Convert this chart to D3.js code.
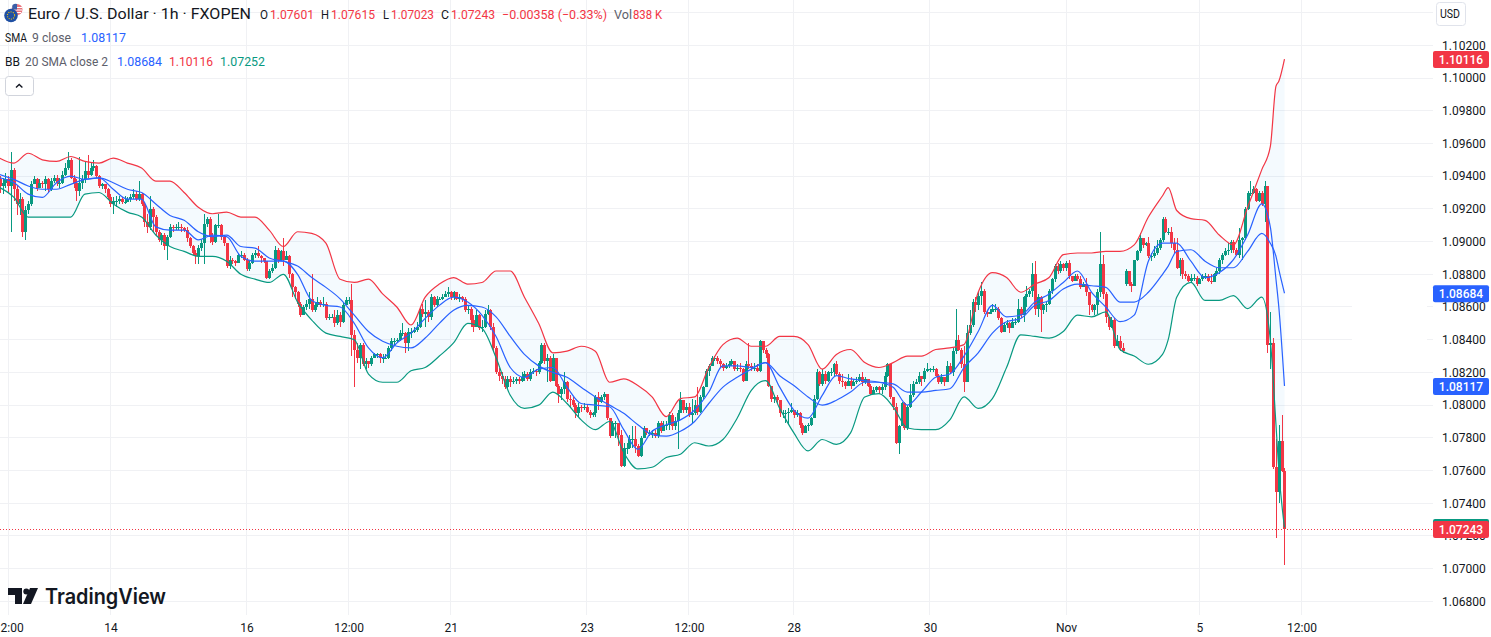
<!DOCTYPE html>
<html>
<head>
<meta charset="utf-8">
<script src="https://cdn.jsdelivr.net/npm/d3@7"></script>
<style>
  html, body { margin: 0; padding: 0; background: #fff; overflow: hidden; }
  text { font-family: Roboto, sans-serif; }
</style>
</head>
<body>
<div id="chart"></div>
<script>
// hourly closes, first bar is index -3
var firstBar = -3;
var firstOpen = 1.0938;
var gapOpens = { 394: 1.0874 };   // weekend gap, the rest open on the previous close

var closes = [
  1.0934,1.0936,1.0938,1.0934,1.0944,1.0932,1.0923,1.0926,1.0906,1.0919,
  1.0923,1.0935,1.0938,1.0933,1.0936,1.0935,1.0938,1.0932,1.0937,1.0939,
  1.0936,1.0936,1.0941,1.0945,1.0950,1.0939,1.0936,1.0931,1.0936,1.0938,
  1.0943,1.0941,1.0945,1.0946,1.0940,1.0934,1.0935,1.0932,1.0927,1.0923,
  1.0925,1.0925,1.0926,1.0924,1.0924,1.0926,1.0927,1.0929,1.0926,1.0929,
  1.0923,1.0912,1.0909,1.0920,1.0915,1.0906,1.0901,1.0904,1.0897,1.0903,
  1.0909,1.0908,1.0909,1.0909,1.0908,1.0907,1.0902,1.0897,1.0893,1.0891,
  1.0896,1.0899,1.0911,1.0914,1.0903,1.0900,1.0910,1.0910,1.0903,1.0899,
  1.0885,1.0889,1.0888,1.0887,1.0892,1.0892,1.0889,1.0883,1.0887,1.0892,
  1.0893,1.0891,1.0890,1.0888,1.0878,1.0882,1.0884,1.0895,1.0889,1.0894,
  1.0889,1.0891,1.0880,1.0872,1.0869,1.0862,1.0855,1.0860,1.0862,1.0865,
  1.0858,1.0861,1.0863,1.0861,1.0862,1.0853,1.0854,1.0854,1.0850,1.0855,
  1.0851,1.0861,1.0864,1.0864,1.0843,1.0834,1.0829,1.0837,1.0825,1.0827,
  1.0825,1.0829,1.0831,1.0831,1.0829,1.0829,1.0829,1.0835,1.0839,1.0839,
  1.0840,1.0844,1.0844,1.0838,1.0845,1.0845,1.0846,1.0848,1.0859,1.0856,
  1.0857,1.0854,1.0866,1.0861,1.0865,1.0865,1.0866,1.0868,1.0869,1.0866,
  1.0869,1.0865,1.0866,1.0865,1.0858,1.0859,1.0852,1.0848,1.0855,1.0847,
  1.0848,1.0856,1.0858,1.0848,1.0835,1.0820,1.0818,1.0816,1.0811,1.0816,
  1.0814,1.0815,1.0816,1.0815,1.0817,1.0819,1.0816,1.0820,1.0821,1.0820,
  1.0826,1.0837,1.0827,1.0829,1.0815,1.0829,1.0812,1.0807,1.0810,1.0814,
  1.0804,1.0803,1.0800,1.0795,1.0799,1.0798,1.0799,1.0796,1.0794,1.0795,
  1.0805,1.0802,1.0805,1.0807,1.0792,1.0781,1.0789,1.0789,1.0782,1.0763,
  1.0774,1.0774,1.0779,1.0779,1.0775,1.0769,1.0780,1.0786,1.0783,1.0783,
  1.0783,1.0781,1.0789,1.0784,1.0788,1.0788,1.0794,1.0787,1.0790,1.0795,
  1.0803,1.0797,1.0799,1.0794,1.0795,1.0800,1.0796,1.0805,1.0811,1.0821,
  1.0824,1.0829,1.0829,1.0827,1.0825,1.0823,1.0824,1.0825,1.0827,1.0822,
  1.0823,1.0822,1.0815,1.0825,1.0824,1.0823,1.0823,1.0821,1.0839,1.0834,
  1.0831,1.0812,1.0804,1.0805,1.0803,1.0795,1.0795,1.0795,1.0796,1.0797,
  1.0794,1.0795,1.0788,1.0783,1.0787,1.0788,1.0792,1.0804,1.0820,1.0813,
  1.0819,1.0815,1.0820,1.0820,1.0825,1.0819,1.0815,1.0814,1.0812,1.0815,
  1.0812,1.0814,1.0815,1.0817,1.0814,1.0816,1.0812,1.0807,1.0809,1.0811,
  1.0809,1.0811,1.0818,1.0825,1.0805,1.0799,1.0777,1.0787,1.0801,1.0786,
  1.0799,1.0806,1.0813,1.0814,1.0818,1.0816,1.0821,1.0822,1.0822,1.0822,
  1.0818,1.0814,1.0817,1.0814,1.0824,1.0820,1.0833,1.0840,1.0834,1.0825,
  1.0814,1.0844,1.0849,1.0863,1.0861,1.0867,
  1.0870,1.0857,1.0856,1.0857,1.0859,1.0859,1.0853,1.0845,1.0849,1.0850,
  1.0847,1.0851,1.0851,1.0859,1.0855,1.0866,1.0868,1.0870,1.0880,1.0859,
  1.0866,1.0858,1.0861,1.0862,1.0870,1.0877,1.0885,1.0882,1.0886,1.0884,
  1.0887,1.0879,1.0876,1.0879,1.0877,1.0872,1.0874,1.0869,1.0861,1.0858,
  1.0861,1.0869,1.0886,1.0868,1.0854,1.0848,1.0852,1.0836,1.0839,1.0835,
  1.0833,1.0882,1.0874,1.0873,1.0889,1.0894,1.0902,1.0898,1.0899,1.0891,
  1.0891,1.0893,1.0896,1.0901,1.0914,1.0906,1.0906,1.0899,1.0895,1.0884,
  1.0889,1.0880,1.0879,1.0876,1.0878,1.0878,1.0874,1.0877,1.0879,1.0879,
  1.0876,1.0875,1.0880,1.0882,1.0889,1.0892,1.0894,1.0895,1.0900,1.0895,
  1.0892,1.0901,1.0902,1.0920,1.0930,1.0930,1.0932,1.0925,1.0930,1.0923,1.0934,
  1.0837,1.0838,1.0762,1.0747,1.0778,1.0760,1.07243
];

var highs = [
  1.0940,1.0939,1.0942,1.0940,1.0955,1.0945,1.0934,1.0930,1.0927,1.0922,
  1.0925,1.0937,1.0940,1.0939,1.0938,1.0937,1.0940,1.0939,1.0939,1.0941,
  1.0941,1.0939,1.0943,1.0948,1.0955,1.0951,1.0941,1.0938,1.0952,1.0941,
  1.0949,1.0953,1.0948,1.0950,1.0947,1.0941,1.0936,1.0935,1.0933,1.0929,
  1.0927,1.0928,1.0928,1.0927,1.0928,1.0927,1.0929,1.0932,1.0931,1.0937,
  1.0930,1.0924,1.0917,1.0928,1.0921,1.0916,1.0907,1.0905,1.0905,1.0904,
  1.0911,1.0910,1.0911,1.0912,1.0911,1.0909,1.0909,1.0903,1.0898,1.0895,
  1.0898,1.0901,1.0917,1.0915,1.0915,1.0905,1.0911,1.0917,1.0911,1.0904,
  1.0899,1.0891,1.0890,1.0889,1.0893,1.0894,1.0893,1.0890,1.0888,1.0893,
  1.0895,1.0897,1.0892,1.0890,1.0888,1.0883,1.0886,1.0897,1.0896,1.0895,
  1.0902,1.0894,1.0892,1.0881,1.0873,1.0870,1.0863,1.0861,1.0864,1.0869,
  1.0880,1.0863,1.0866,1.0864,1.0866,1.0863,1.0856,1.0856,1.0858,1.0858,
  1.0857,1.0863,1.0866,1.0866,1.0874,1.0846,1.0838,1.0838,1.0838,1.0829,
  1.0827,1.0830,1.0832,1.0832,1.0832,1.0831,1.0831,1.0836,1.0841,1.0841,
  1.0841,1.0846,1.0850,1.0845,1.0847,1.0847,1.0848,1.0851,1.0860,1.0862,
  1.0864,1.0858,1.0868,1.0867,1.0867,1.0866,1.0868,1.0870,1.0872,1.0870,
  1.0870,1.0869,1.0868,1.0867,1.0866,1.0861,1.0860,1.0855,1.0858,1.0856,
  1.0852,1.0858,1.0861,1.0859,1.0850,1.0836,1.0823,1.0820,1.0818,1.0818,
  1.0818,1.0817,1.0817,1.0817,1.0820,1.0821,1.0820,1.0822,1.0823,1.0822,
  1.0827,1.0838,1.0838,1.0831,1.0830,1.0831,1.0821,1.0813,1.0811,1.0820,
  1.0815,1.0806,1.0805,1.0801,1.0801,1.0800,1.0801,1.0800,1.0797,1.0796,
  1.0806,1.0808,1.0806,1.0808,1.0807,1.0791,1.0790,1.0790,1.0789,1.0785,
  1.0777,1.0777,1.0782,1.0787,1.0787,1.0776,1.0781,1.0787,1.0786,1.0785,
  1.0785,1.0785,1.0790,1.0790,1.0790,1.0790,1.0796,1.0795,1.0793,1.0797,
  1.0808,1.0803,1.0801,1.0801,1.0804,1.0803,1.0811,1.0806,1.0812,1.0822,
  1.0825,1.0830,1.0830,1.0830,1.0828,1.0826,1.0826,1.0827,1.0828,1.0827,
  1.0825,1.0826,1.0823,1.0827,1.0838,1.0826,1.0826,1.0825,1.0840,1.0839,
  1.0835,1.0832,1.0812,1.0806,1.0806,1.0803,1.0797,1.0797,1.0798,1.0801,
  1.0796,1.0797,1.0796,1.0789,1.0788,1.0789,1.0793,1.0806,1.0822,1.0821,
  1.0822,1.0821,1.0821,1.0823,1.0826,1.0827,1.0820,1.0819,1.0815,1.0819,
  1.0817,1.0816,1.0817,1.0819,1.0820,1.0817,1.0816,1.0813,1.0811,1.0812,
  1.0812,1.0813,1.0820,1.0826,1.0822,1.0805,1.0801,1.0788,1.0802,1.0802,
  1.0800,1.0813,1.0815,1.0816,1.0820,1.0818,1.0823,1.0826,1.0823,1.0824,
  1.0823,1.0819,1.0819,1.0816,1.0827,1.0826,1.0835,1.0859,1.0843,1.0835,
  1.0836,1.0849,1.0858,1.0865,1.0866,1.0869,
  1.0875,1.0871,1.0858,1.0859,1.0862,1.0862,1.0860,1.0854,1.0851,1.0852,
  1.0851,1.0853,1.0853,1.0865,1.0860,1.0867,1.0873,1.0871,1.0887,1.0888,
  1.0868,1.0867,1.0862,1.0863,1.0871,1.0878,1.0886,1.0887,1.0888,1.0887,
  1.0888,1.0889,1.0879,1.0880,1.0880,1.0879,1.0875,1.0878,1.0869,1.0862,
  1.0862,1.0871,1.0906,1.0892,1.0869,1.0854,1.0854,1.0853,1.0843,1.0842,
  1.0838,1.0883,1.0880,1.0875,1.0889,1.0895,1.0905,1.0902,1.0900,1.0903,
  1.0893,1.0897,1.0901,1.0902,1.0915,1.0915,1.0908,1.0909,1.0902,1.0902,
  1.0890,1.0890,1.0882,1.0880,1.0880,1.0880,1.0879,1.0878,1.0880,1.0881,
  1.0880,1.0880,1.0881,1.0884,1.0890,1.0893,1.0896,1.0899,1.0901,1.0901,
  1.0896,1.0908,1.0903,1.0921,1.0931,1.0937,1.0934,1.0933,1.0931,1.0931,1.0937,
  1.0934,1.0857,1.0841,1.0779,1.0788,1.0794,1.07615
];

var lows = [
  1.0930,1.0929,1.0933,1.0930,1.0906,1.0925,1.0916,1.0916,1.0903,1.0901,
  1.0917,1.0922,1.0935,1.0931,1.0933,1.0933,1.0931,1.0930,1.0931,1.0936,
  1.0934,1.0933,1.0935,1.0940,1.0944,1.0938,1.0933,1.0925,1.0928,1.0932,
  1.0936,1.0939,1.0940,1.0943,1.0939,1.0933,1.0932,1.0930,1.0926,1.0921,
  1.0917,1.0921,1.0923,1.0923,1.0923,1.0924,1.0924,1.0926,1.0925,1.0925,
  1.0922,1.0909,1.0905,1.0907,1.0906,1.0904,1.0900,1.0898,1.0895,1.0889,
  1.0902,1.0906,1.0907,1.0907,1.0906,1.0906,1.0900,1.0896,1.0892,1.0886,
  1.0886,1.0894,1.0886,1.0909,1.0899,1.0898,1.0899,1.0908,1.0901,1.0897,
  1.0884,1.0883,1.0886,1.0885,1.0887,1.0890,1.0888,1.0882,1.0882,1.0886,
  1.0890,1.0890,1.0887,1.0887,1.0877,1.0877,1.0881,1.0883,1.0887,1.0888,
  1.0885,1.0889,1.0878,1.0866,1.0865,1.0860,1.0854,1.0855,1.0858,1.0859,
  1.0857,1.0857,1.0860,1.0860,1.0860,1.0852,1.0852,1.0853,1.0848,1.0849,
  1.0848,1.0850,1.0862,1.0862,1.0830,1.0811,1.0826,1.0822,1.0824,1.0822,
  1.0823,1.0824,1.0829,1.0829,1.0826,1.0826,1.0828,1.0828,1.0833,1.0837,
  1.0838,1.0839,1.0842,1.0832,1.0833,1.0841,1.0844,1.0845,1.0847,1.0854,
  1.0848,1.0851,1.0852,1.0860,1.0860,1.0864,1.0864,1.0866,1.0866,1.0864,
  1.0864,1.0864,1.0863,1.0863,1.0857,1.0856,1.0848,1.0845,1.0848,1.0846,
  1.0845,1.0847,1.0855,1.0846,1.0833,1.0819,1.0815,1.0813,1.0810,1.0810,
  1.0811,1.0813,1.0813,1.0813,1.0814,1.0815,1.0815,1.0815,1.0819,1.0818,
  1.0819,1.0825,1.0825,1.0814,1.0814,1.0815,1.0811,1.0801,1.0803,1.0807,
  1.0802,1.0798,1.0799,1.0792,1.0793,1.0796,1.0797,1.0795,1.0792,1.0793,
  1.0793,1.0797,1.0801,1.0803,1.0791,1.0780,1.0781,1.0780,1.0775,1.0762,
  1.0762,1.0770,1.0773,1.0774,1.0771,1.0768,1.0768,1.0780,1.0782,1.0781,
  1.0780,1.0780,1.0780,1.0783,1.0784,1.0785,1.0785,1.0785,1.0785,1.0773,
  1.0796,1.0795,1.0795,1.0793,1.0789,1.0794,1.0794,1.0795,1.0804,1.0811,
  1.0818,1.0824,1.0827,1.0825,1.0823,1.0821,1.0822,1.0823,1.0824,1.0821,
  1.0821,1.0820,1.0814,1.0815,1.0822,1.0821,1.0821,1.0820,1.0820,1.0832,
  1.0829,1.0811,1.0802,1.0801,1.0801,1.0793,1.0792,1.0789,1.0788,1.0795,
  1.0792,1.0793,1.0786,1.0782,1.0783,1.0784,1.0787,1.0792,1.0803,1.0812,
  1.0812,1.0813,1.0814,1.0818,1.0817,1.0818,1.0813,1.0811,1.0810,1.0813,
  1.0810,1.0812,1.0813,1.0814,1.0812,1.0813,1.0811,1.0806,1.0807,1.0808,
  1.0807,1.0807,1.0809,1.0817,1.0804,1.0797,1.0776,1.0770,1.0787,1.0785,
  1.0785,1.0798,1.0805,1.0813,1.0813,1.0812,1.0814,1.0820,1.0820,1.0820,
  1.0817,1.0813,1.0813,1.0812,1.0814,1.0819,1.0818,1.0831,1.0833,1.0823,
  1.0808,1.0814,1.0843,1.0848,1.0857,1.0858,
  1.0861,1.0856,1.0854,1.0856,1.0857,1.0857,1.0852,1.0844,1.0845,1.0847,
  1.0844,1.0847,1.0849,1.0850,1.0853,1.0851,1.0860,1.0866,1.0866,1.0855,
  1.0854,1.0845,1.0856,1.0857,1.0861,1.0868,1.0875,1.0880,1.0881,1.0882,
  1.0882,1.0877,1.0875,1.0876,1.0876,1.0871,1.0872,1.0867,1.0855,1.0857,
  1.0855,1.0856,1.0866,1.0865,1.0850,1.0846,1.0847,1.0835,1.0836,1.0833,
  1.0832,1.0873,1.0873,1.0869,1.0873,1.0888,1.0893,1.0896,1.0897,1.0890,
  1.0888,1.0890,1.0892,1.0895,1.0900,1.0905,1.0904,1.0896,1.0893,1.0883,
  1.0879,1.0877,1.0877,1.0875,1.0875,1.0876,1.0873,1.0874,1.0876,1.0877,
  1.0875,1.0874,1.0875,1.0879,1.0880,1.0886,1.0891,1.0892,1.0893,1.0893,
  1.0891,1.0890,1.0889,1.0901,1.0919,1.0928,1.0929,1.0924,1.0924,1.0922,1.0912,
  1.0832,1.0822,1.0761,1.0719,1.0740,1.0759,1.07023
];

// line series are sampled every 5 bars, with the peak at 409 and the last steep bars
var lineBars = d3.range(-3, 408, 5).concat([409], d3.range(412, 443, 5), [445, 447, 448, 450]);

var bbUpper = [
  1.0951,1.0948,1.0954,1.0950,1.0949,1.0952,1.0949,1.0948,1.0951,1.0948,1.0945,1.0937,1.0937,1.0930,1.0921,
  1.0917,1.0918,1.0915,1.0915,1.0907,1.0897,1.0906,1.0905,1.0899,1.0877,1.0875,1.0877,1.0868,1.0860,1.0849,
  1.0866,1.0874,1.0878,1.0874,1.0875,1.0882,1.0882,1.0866,1.0850,1.0832,1.0833,1.0836,1.0833,1.0814,1.0816,
  1.0812,1.0805,1.0793,1.0804,1.0805,1.0823,1.0837,1.0841,1.0836,1.0836,1.0842,1.0842,1.0837,1.0822,1.0831,
  1.0834,1.0826,1.0823,1.0826,1.0830,1.0830,1.0834,1.0835,1.0837,1.0869,1.0881,1.0878,1.0869,1.0874,1.0878,
  1.0892,1.0893,1.0893,1.0894,1.0894,1.0898,1.0915,1.0928,1.0933,1.0919,1.0914,1.0913,1.0904,1.0898,1.0921,1.0944,
  1.0958,1.0995,1.0998,1.10116
];

var bbBasis = [
  1.0941,1.0938,1.0934,1.0932,1.0932,1.0935,1.0938,1.0939,1.0936,1.0932,1.0930,1.0923,1.0916,1.0913,1.0906,
  1.0903,1.0904,1.0897,1.0896,1.0890,1.0888,1.0885,1.0878,1.0872,1.0865,1.0855,1.0845,1.0839,1.0836,1.0835,
  1.0841,1.0850,1.0858,1.0861,1.0860,1.0854,1.0842,1.0831,1.0824,1.0820,1.0817,1.0811,1.0805,1.0800,1.0795,
  1.0788,1.0782,1.0781,1.0784,1.0790,1.0801,1.0811,1.0817,1.0822,1.0826,1.0818,1.0812,1.0805,1.0800,1.0803,
  1.0808,1.0814,1.0814,1.0813,1.0808,1.0808,1.0809,1.0810,1.0823,1.0832,1.0844,1.0851,1.0853,1.0861,1.0864,
  1.0871,1.0874,1.0873,1.0872,1.0863,1.0863,1.0869,1.0880,1.0885,1.0894,1.0895,1.0888,1.0884,1.0884,1.0894,1.0905,
  1.0899,1.0891,1.0883,1.08684
];

var bbLower = [
  1.0933,1.0927,1.0915,1.0915,1.0915,1.0915,1.0929,1.0930,1.0923,1.0918,1.0915,1.0904,1.0897,1.0894,1.0891,
  1.0891,1.0888,1.0880,1.0877,1.0875,1.0880,1.0863,1.0852,1.0844,1.0842,1.0840,1.0819,1.0814,1.0814,1.0821,
  1.0823,1.0830,1.0838,1.0850,1.0847,1.0829,1.0806,1.0798,1.0800,1.0808,1.0801,1.0791,1.0785,1.0790,1.0771,
  1.0761,1.0762,1.0768,1.0770,1.0777,1.0775,1.0779,1.0792,1.0809,1.0815,1.0798,1.0783,1.0772,1.0779,1.0776,
  1.0783,1.0805,1.0807,1.0799,1.0786,1.0785,1.0785,1.0791,1.0805,1.0798,1.0804,1.0823,1.0843,1.0842,1.0841,
  1.0845,1.0855,1.0854,1.0857,1.0834,1.0830,1.0825,1.0831,1.0840,1.0866,1.0875,1.0864,1.0864,1.0867,1.0859,1.0866,
  1.0840,1.0788,1.0760,1.07252
];

var sma9 = [
  1.0939,1.0936,1.0929,1.0927,1.0936,1.0940,1.0938,1.0939,1.0932,1.0926,1.0926,1.0909,1.0907,1.0907,1.0901,
  1.0904,1.0903,1.0891,1.0888,1.0888,1.0888,1.0880,1.0864,1.0861,1.0860,1.0850,1.0835,1.0829,1.0838,1.0844,
  1.0853,1.0861,1.0866,1.0863,1.0855,1.0842,1.0823,1.0817,1.0822,1.0823,1.0811,1.0801,1.0800,1.0799,1.0785,
  1.0773,1.0784,1.0788,1.0791,1.0797,1.0808,1.0824,1.0824,1.0823,1.0826,1.0811,1.0797,1.0792,1.0806,1.0818,
  1.0816,1.0815,1.0814,1.0811,1.0800,1.0808,1.0817,1.0819,1.0830,1.0845,1.0861,1.0854,1.0855,1.0863,1.0868,
  1.0875,1.0882,1.0869,1.0860,1.0851,1.0855,1.0888,1.0899,1.0899,1.0899,1.0888,1.0878,1.0881,1.0889,1.0904,1.0923,
  1.0909,1.0877,1.0860,1.08117
];

var priceTicks = d3.range(17, -1, -1).map(function(k) { return 1.068 + k * 0.002; });
var gridPrices = [1.104].concat(priceTicks);
var timeBars = [0, 36, 84, 120, 156, 204, 240, 277, 325, 373, 420, 456];
var timeLabels = ["12:00", "14", "16", "12:00", "21", "23", "12:00", "28", "30", "Nov", "5", "12:00"];

var upColor = "#089981", downColor = "#F23645", blueColor = "#2962FF";
var width = 1491, height = 637;
var paneRight = 1433, paneBottom = 615;

var x = d3.scaleLinear().domain([0, 456]).range([8.3, 1301.5]);
var y = d3.scaleLinear().domain([1.068, 1.102]).range([601.4, 45.3]);

var bars = closes.map(function(c, k) {
  var bar = firstBar + k;
  var o = gapOpens[bar] !== undefined ? gapOpens[bar] : (k == 0 ? firstOpen : closes[k - 1]);
  return { bar: bar, o: o, c: c, h: Math.max(highs[k], o, c), l: Math.min(lows[k], o, c) };
});

var svg = d3.select("#chart").append("svg")
    .attr("width", width)
    .attr("height", height)
    .style("display", "block");

// grid
var grid = svg.append("g").attr("stroke", "#f0f1f4").attr("shape-rendering", "crispEdges");
grid.selectAll("line.h").data(gridPrices).enter().append("line")
    .attr("class", "h")
    .attr("x1", 0).attr("x2", paneRight)
    .attr("y1", function(d) { return y(d); })
    .attr("y2", function(d) { return y(d); });
grid.selectAll("line.v").data(timeBars).enter().append("line")
    .attr("class", "v")
    .attr("y1", 0).attr("y2", paneBottom)
    .attr("x1", function(d) { return x(d); })
    .attr("x2", function(d) { return x(d); });
// two rows of the grid stop short of the scale in the picture
svg.append("rect").attr("x", 1352).attr("y", 300).attr("width", 75).attr("height", 45).attr("fill", "#fff");

// bands
var lineData = lineBars.map(function(b, k) {
  return { bar: b, upper: bbUpper[k], basis: bbBasis[k], lower: bbLower[k], sma: sma9[k] };
});

var area = d3.area()
    .x(function(d) { return x(d.bar); })
    .y0(function(d) { return y(d.lower); })
    .y1(function(d) { return y(d.upper); })
    .curve(d3.curveMonotoneX);

svg.append("path").datum(lineData)
    .attr("d", area)
    .attr("fill", "rgba(33,150,243,0.05)");

// candles
var candles = svg.append("g").attr("shape-rendering", "crispEdges");
candles.selectAll("rect.wick").data(bars).enter().append("rect")
    .attr("class", "wick")
    .attr("x", function(d) { return Math.round(x(d.bar)) - 0.5; })
    .attr("width", 1)
    .attr("y", function(d) { return y(d.h); })
    .attr("height", function(d) { return y(d.l) - y(d.h); })
    .attr("fill", function(d) { return d.c >= d.o ? upColor : downColor; });
candles.selectAll("rect.body").data(bars).enter().append("rect")
    .attr("class", "body")
    .attr("x", function(d) { return Math.round(x(d.bar)) - 1.5; })
    .attr("width", 3)
    .attr("y", function(d) { return y(Math.max(d.o, d.c)); })
    .attr("height", function(d) { return Math.max(1, Math.abs(y(d.o) - y(d.c))); })
    .attr("fill", function(d) { return d.c >= d.o ? upColor : downColor; });

// indicator lines
var drawLine = function(key, color) {
  var line = d3.line()
      .x(function(d) { return x(d.bar); })
      .y(function(d) { return y(d[key]); })
      .curve(d3.curveMonotoneX);
  svg.append("path").datum(lineData)
      .attr("d", line)
      .attr("fill", "none")
      .attr("stroke", color)
      .attr("stroke-width", 1.2);
};
drawLine("upper", downColor);
drawLine("lower", upColor);
drawLine("basis", blueColor);
drawLine("sma", blueColor);

// last price line
var lastPrice = closes[closes.length - 1];
var lastY = Math.round(y(lastPrice)) + 0.5;
svg.append("line")
    .attr("x1", 0).attr("x2", paneRight)
    .attr("y1", lastY).attr("y2", lastY)
    .attr("stroke", downColor)
    .attr("shape-rendering", "crispEdges")
    .attr("stroke-dasharray", "1 2");

// axes
var priceAxis = d3.axisRight(y)
    .tickValues(priceTicks)
    .tickSize(0)
    .tickPadding(9)
    .tickFormat(d3.format(".5f"));
var gPrice = svg.append("g").attr("transform", "translate(" + paneRight + ",0)").call(priceAxis);
gPrice.select(".domain").remove();
gPrice.selectAll("text").attr("fill", "#131722").style("font-size", "12px").style("font-family", "Roboto, sans-serif");

var timeAxis = d3.axisBottom(x)
    .tickValues(timeBars)
    .tickSize(0)
    .tickPadding(8)
    .tickFormat(function(d, i) { return timeLabels[i]; });
var gTime = svg.append("g").attr("transform", "translate(0," + paneBottom + ")").call(timeAxis);
gTime.select(".domain").remove();
gTime.selectAll("text").attr("fill", "#131722").style("font-size", "12px").style("font-family", "Roboto, sans-serif");

// price boxes on the scale
var boxPrices = [
  { v: lastPrice, color: downColor },
  { v: bbUpper[bbUpper.length - 1], color: downColor },
  { v: bbBasis[bbBasis.length - 1], color: blueColor },
  { v: sma9[sma9.length - 1], color: blueColor }
];
// lower band box sits just behind the last price box
svg.append("rect")
    .attr("x", paneRight).attr("width", 56)
    .attr("y", y(bbLower[bbLower.length - 1]) - 8.5).attr("height", 17).attr("rx", 2)
    .attr("fill", upColor);
boxPrices.forEach(function(b) {
  svg.append("rect")
      .attr("x", paneRight).attr("width", 56)
      .attr("y", y(b.v) - 8).attr("height", 17).attr("rx", 2)
      .attr("fill", b.color);
  svg.append("text")
      .attr("x", paneRight + 28).attr("y", y(b.v) + 0.5)
      .attr("dy", "0.35em")
      .attr("text-anchor", "middle")
      .attr("fill", "#fff")
      .style("font-size", "12px")
      .style("font-weight", 500)
      .text(d3.format(".5f")(b.v));
});

// legend
var legendText = function(s, px, py, w, color, size) {
  return svg.append("text")
      .attr("x", px).attr("y", py)
      .attr("dy", "0.35em")
      .attr("textLength", w)
      .attr("lengthAdjust", "spacingAndGlyphs")
      .attr("fill", color)
      .style("font-size", (size || 13) + "px")
      .text(s);
};
var grey = "#5d606b", dark = "#131722";

legendText("Euro / U.S. Dollar · 1h · FXOPEN", 28, 14, 223, dark, 15.5);
legendText("O", 260, 14, 8, dark);
legendText("1.07601", 270, 14, 44, downColor);
legendText("H", 321, 14, 8, dark);
legendText("1.07615", 331, 14, 44, downColor);
legendText("L", 383, 14, 6, dark);
legendText("1.07023", 391, 14, 43, downColor);
legendText("C", 441, 14, 8, dark);
legendText("1.07243", 451, 14, 44, downColor);
legendText("−0.00358 (−0.33%)", 502, 14, 105, downColor);
legendText("Vol", 614, 14, 18, grey);
legendText("838 K", 633, 14, 29, downColor);

legendText("SMA", 5, 37, 22, dark);
legendText("9 close", 32, 37, 39, grey);
legendText("1.08117", 81, 37, 45, blueColor);

legendText("BB", 5, 61, 15, dark);
legendText("20 SMA close 2", 25, 61, 83, grey);
legendText("1.08684", 117, 61, 45, blueColor);
legendText("1.10116", 169, 61, 44, downColor);
legendText("1.07252", 220, 61, 45, upColor);

// collapse button
svg.append("rect")
    .attr("x", 5.5).attr("y", 76.5).attr("width", 28).attr("height", 19).attr("rx", 3)
    .attr("fill", "#fff").attr("stroke", "#d1d4dc");
svg.append("path")
    .attr("d", "M16,87.5L19.2,84.5L22.4,87.5")
    .attr("fill", "none").attr("stroke", dark).attr("stroke-width", 1.4);

// symbol icon
var icon = svg.append("g");
icon.append("circle").attr("cx", 17).attr("cy", 9.5).attr("r", 5.5).attr("fill", "#e8737c");
icon.append("path").attr("d", "M12,7.5H22M12,10H22M12,12.5H21").attr("stroke", "#fff").attr("stroke-width", 1);
icon.append("path").attr("d", "M12.5,5A5.5,5.5 0 0 1 17,4V9.5H12Z").attr("fill", "#3a5fa8");
icon.append("circle").attr("cx", 11).attr("cy", 15.5).attr("r", 6.8).attr("fill", "#1f4fa3");
icon.append("circle").attr("cx", 11).attr("cy", 15.5).attr("r", 3.6)
    .attr("fill", "none").attr("stroke", "#f5c400").attr("stroke-width", 1.1).attr("stroke-dasharray", "1 1.3");

// USD unit button
svg.append("rect")
    .attr("x", 1436.5).attr("y", 2.5).attr("width", 29).attr("height", 23).attr("rx", 3)
    .attr("fill", "#fff").attr("stroke", "#e0e3eb");
svg.append("text")
    .attr("x", 1440).attr("y", 14).attr("dy", "0.35em")
    .attr("textLength", 20).attr("lengthAdjust", "spacingAndGlyphs")
    .attr("fill", dark)
    .style("font-size", "12px").text("USD");

// logo
var logo = svg.append("g").attr("fill", "#131722");
logo.append("path").attr("d", "M8,588H22V604H15V595H8Z");
logo.append("circle").attr("cx", 26.3).attr("cy", 591.5).attr("r", 3);
logo.append("path").attr("d", "M30,588H38L31,604H23Z");
svg.append("text")
    .attr("x", 45).attr("y", 597).attr("dy", "0.35em")
    .attr("textLength", 121).attr("lengthAdjust", "spacingAndGlyphs")
    .attr("fill", "#131722")
    .style("font-size", "21px").style("font-weight", 600).style("font-family", "Inter, Roboto, sans-serif")
    .text("TradingView");

if (bars.length != highs.length || bars.length != lows.length || bbUpper.length != lineBars.length ||
    bbBasis.length != lineBars.length || bbLower.length != lineBars.length || sma9.length != lineBars.length) {
  throw new Error("lengths " + [bars.length, highs.length, lows.length, lineBars.length, bbUpper.length, bbBasis.length, bbLower.length, sma9.length].join(","));
}
</script>
</body>
</html>
